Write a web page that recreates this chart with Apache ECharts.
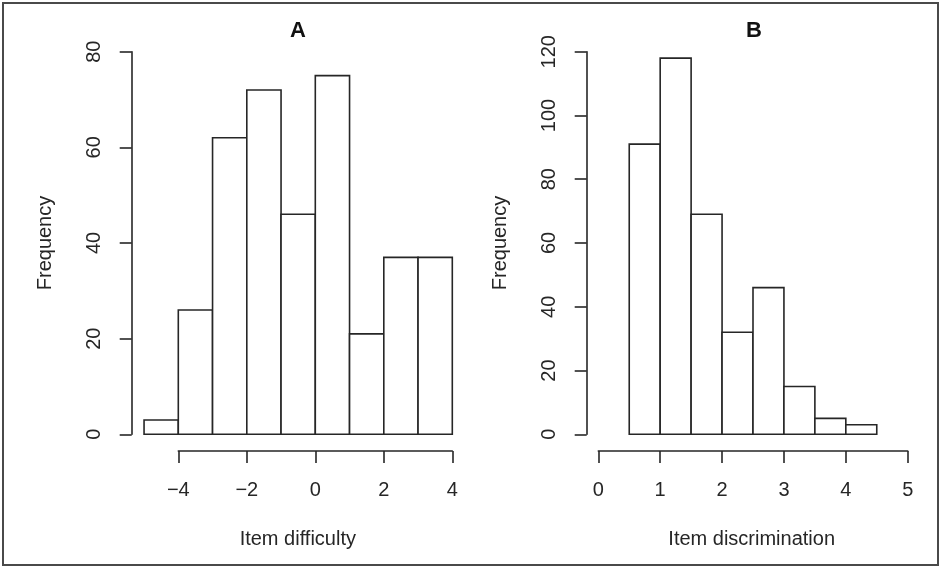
<!DOCTYPE html>
<html>
<head>
<meta charset="utf-8">
<script src="https://cdn.jsdelivr.net/npm/echarts@6/dist/echarts.min.js"></script>
<style>
  html, body { margin: 0; padding: 0; background: #ffffff; }
  #chart { width: 941px; height: 568px; }
</style>
</head>
<body>
<div id="chart"></div>
<script>
// Histogram A: item difficulty (bin edges and counts)
const difficultyBreaks = [-5, -4, -3, -2, -1, 0, 1, 2, 3, 4];
const difficultyCounts = [3, 26, 62, 72, 46, 75, 21, 37, 37];

// Histogram B: item discrimination (bin edges and counts)
const discriminationBreaks = [0.5, 1, 1.5, 2, 2.5, 3, 3.5, 4, 4.5];
const discriminationCounts = [91, 118, 69, 32, 46, 15, 5, 3];

// Panel titles and axis titles
const panelTitles = ['A', 'B'];
const xTitles = ['Item difficulty', 'Item discrimination'];
const yTitle = 'Frequency';

// Axis tick settings
const xTicksA = { min: -4, max: 4, interval: 2 };
const yTicksA = { min: 0, max: 80, interval: 20 };
const xTicksB = { min: 0, max: 5, interval: 1 };
const yTicksB = { min: 0, max: 120, interval: 20 };

const FONT = '"Liberation Sans", Arial, Helvetica, sans-serif';
const INK = '#262626';
const LABEL_SIZE = 20;

function binsOf(breaks, counts) {
  return counts.map((c, i) => [breaks[i], breaks[i + 1], c]);
}

function renderBin(params, api) {
  const topLeft = api.coord([api.value(0), api.value(2)]);
  const bottomRight = api.coord([api.value(1), 0]);
  return {
    type: 'rect',
    shape: {
      x: topLeft[0],
      y: topLeft[1],
      width: bottomRight[0] - topLeft[0],
      height: bottomRight[1] - topLeft[1]
    },
    style: { fill: '#ffffff', stroke: INK, lineWidth: 1.6 }
  };
}

const minus = v => String(v).replace('-', '\u2212');

// The x title is centred on the whole plotting region, which can sit off
// the centre of the tick range; the padding shifts it by the difference.
function xAxisOf(gridIndex, ticks, name, shift) {
  return {
    type: 'value',
    gridIndex,
    min: ticks.min, max: ticks.max, interval: ticks.interval,
    offset: 16.7,
    name,
    nameLocation: 'middle',
    nameGap: 78,
    nameTextStyle: {
      fontFamily: FONT, fontSize: LABEL_SIZE, color: INK,
      padding: shift < 0 ? [0, -2 * shift, 0, 0] : [0, 0, 0, 2 * shift]
    },
    axisLine: { show: true, onZero: false, lineStyle: { color: INK, width: 1.6 } },
    axisTick: { show: true, length: 12, lineStyle: { color: INK, width: 1.6 } },
    axisLabel: { margin: 29, fontFamily: FONT, fontSize: LABEL_SIZE, color: INK, formatter: minus },
    splitLine: { show: false }
  };
}

function yAxisOf(gridIndex, ticks, offset) {
  return {
    type: 'value',
    gridIndex,
    min: ticks.min, max: ticks.max, interval: ticks.interval,
    offset,
    name: yTitle,
    nameLocation: 'middle',
    nameGap: 76,
    nameTextStyle: { fontFamily: FONT, fontSize: LABEL_SIZE, color: INK },
    axisLine: { show: true, onZero: false, lineStyle: { color: INK, width: 1.6 } },
    axisTick: { show: true, length: 12, lineStyle: { color: INK, width: 1.6 } },
    axisLabel: { rotate: 90, margin: 27, fontFamily: FONT, fontSize: LABEL_SIZE, color: INK },
    splitLine: { show: false }
  };
}

const chart = echarts.init(document.getElementById('chart'), null, { renderer: 'canvas' });

chart.setOption({
  animation: false,
  backgroundColor: '#ffffff',
  grid: [
    { left: 178.3, top: 51.7, width: 274, height: 382.6 },
    { left: 598.3, top: 51.7, width: 309.4, height: 382.6 }
  ],
  xAxis: [
    xAxisOf(0, xTicksA, xTitles[0], -17.5),
    xAxisOf(1, xTicksB, xTitles[1], -1.3)
  ],
  yAxis: [
    yAxisOf(0, yTicksA, 46.6),
    yAxisOf(1, yTicksB, 11.6)
  ],
  series: [
    {
      type: 'custom',
      xAxisIndex: 0, yAxisIndex: 0,
      clip: false,
      renderItem: renderBin,
      encode: { x: [0, 1], y: 2 },
      data: binsOf(difficultyBreaks, difficultyCounts)
    },
    {
      type: 'custom',
      xAxisIndex: 1, yAxisIndex: 1,
      clip: false,
      renderItem: renderBin,
      encode: { x: [0, 1], y: 2 },
      data: binsOf(discriminationBreaks, discriminationCounts)
    }
  ],
  graphic: [
    {
      type: 'rect',
      shape: { x: 3, y: 3, width: 935, height: 562 },
      style: { fill: 'none', stroke: '#4a4a4a', lineWidth: 2 },
      silent: true
    },
    {
      type: 'text',
      x: 298, y: 31,
      style: { text: panelTitles[0], font: 'bold 22px ' + FONT, fill: '#111', textAlign: 'center', textVerticalAlign: 'middle' }
    },
    {
      type: 'text',
      x: 754, y: 31,
      style: { text: panelTitles[1], font: 'bold 22px ' + FONT, fill: '#111', textAlign: 'center', textVerticalAlign: 'middle' }
    }
  ]
});
</script>
</body>
</html>
